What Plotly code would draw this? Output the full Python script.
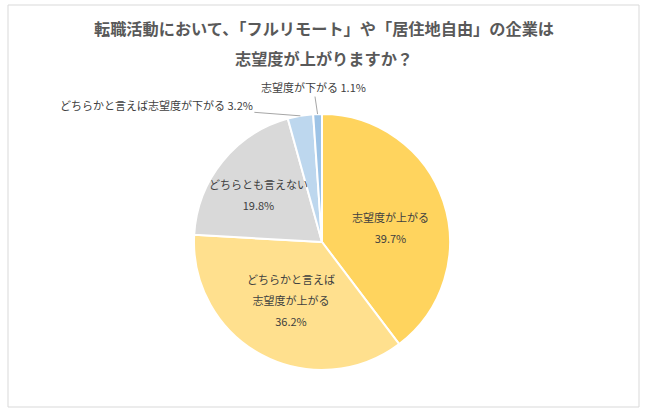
import numpy as np
import plotly.graph_objects as go

# data
labels = ["志望度が上がる", "どちらかと言えば志望度が上がる", "どちらとも言えない",
          "どちらかと言えば志望度が下がる", "志望度が下がる"]
label_text = ["志望度が上がる", "どちらかと言えば<br>志望度が上がる", "どちらとも言えない",
              "どちらかと言えば志望度が下がる", "志望度が下がる"]
values = [39.7, 36.2, 19.8, 3.2, 1.1]
colors = ["#FFD45E", "#FFE08E", "#D9D9D9", "#BDD7EE", "#9DC3E6"]
title_lines = ["転職活動において、「フルリモート」や「居住地自由」の企業は", "志望度が上がりますか？"]

W, H = 647, 411
cx, cy, R = 322, 242, 128   # pie centre / radius in px
font_name = "Noto Sans CJK JP"

def px2paper(x, y):
    return x / W, 1 - y / H

fig = go.Figure(go.Pie(
    labels=labels, values=values, sort=False, direction="clockwise", rotation=0,
    marker=dict(colors=colors, line=dict(color="white", width=2)),
    textinfo="none", hoverinfo="label+percent",
    domain=dict(x=[(cx - R) / W, (cx + R) / W], y=[1 - (cy + R) / H, 1 - (cy - R) / H]),
))

# slice mid angles (clockwise from 12 o'clock)
vals = np.array(values)
mid = (np.cumsum(vals) - vals / 2) / vals.sum() * 2 * np.pi

# inside labels: radius fraction + small nudges
inside_f = [0.45, 0.53, 0.6]
inside_shift = [(14, 4), (1, -2), (-4, 1)]
for i in range(3):
    x = cx + R * inside_f[i] * np.sin(mid[i]) + inside_shift[i][0]
    y = cy - R * inside_f[i] * np.cos(mid[i]) + inside_shift[i][1]
    px_, py_ = px2paper(x, y)
    fig.add_annotation(
        x=px_, y=py_, xref="paper", yref="paper", showarrow=False,
        xanchor="center", yanchor="middle",
        text="<span style='font-size:11px'>%s<br>%.1f%%</span>" % (label_text[i], values[i]),
        font=dict(family=font_name, size=16, color="#404040"),
    )

# outside labels with leader lines
outside_off = {3: (-144, -11), 4: (-4, -27)}
for i, (ax, ay) in outside_off.items():
    x = cx + R * np.sin(mid[i])
    y = cy - R * np.cos(mid[i])
    px_, py_ = px2paper(x, y)
    fig.add_annotation(
        x=px_, y=py_, xref="paper", yref="paper", showarrow=True,
        xanchor="center", yanchor="middle",
        arrowhead=0, arrowwidth=1, arrowcolor="#A6A6A6", ax=ax, ay=ay,
        text="%s %.1f%%" % (label_text[i], values[i]),
        font=dict(family=font_name, size=11, color="#404040"),
    )

# title
for k, line in enumerate(title_lines):
    tx, ty = px2paper(324, 28 + 30 * k)
    fig.add_annotation(x=tx, y=ty, xref="paper", yref="paper", showarrow=False,
                       xanchor="center", yanchor="middle",
                       text="<b>%s</b>" % line,
                       font=dict(family=font_name, size=16.2, color="#595959"))

# chart frame
x0, y0 = px2paper(8, 5)
x1, y1 = px2paper(639, 407)
fig.add_shape(type="rect", xref="paper", yref="paper", x0=x0, y0=y1, x1=x1, y1=y0,
              line=dict(color="#D9D9D9", width=1))

fig.update_layout(
    width=W, height=H,
    margin=dict(l=0, r=0, t=0, b=0),
    showlegend=False,
    paper_bgcolor="white",
    font=dict(family=font_name),
)
fig.write_html("out.html", config={"displayModeBar": False},
               post_script="document.body.style.margin='0';")
